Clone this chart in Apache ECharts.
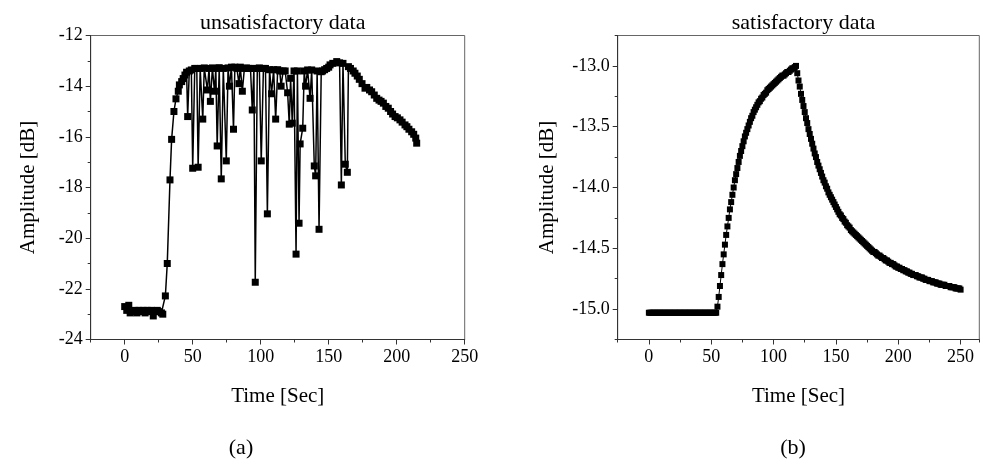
<!DOCTYPE html>
<html><head><meta charset="utf-8">
<script src="https://cdn.jsdelivr.net/npm/echarts@6/dist/echarts.min.js"></script>
<style>html,body{margin:0;padding:0;background:#fff}#c{width:983px;height:469px}</style>
</head><body><div id="c"></div>
<script>
// ---- panel (a): unsatisfactory data ----
const unsatTime = [0,1.5,3,4,6,7.5,9,10.5,12,13.5,15,16.5,18,19.5,21,22.5,24,25.5,27,28,
 29.9,31.3,33.3,34.5,36.2,37.7,39.4,40.2,41.9,43,44.3,45.5,46.3,47.5,49,50,51.5,53,54,55.5,57.4,58.5,60.8,62,63,64.5,66,67,68,69.5,71,72.5,74.7,76,77,78.5,80,81,82.5,84,85,86.5,88,89.5,91,92.5,93.8,95,96,97.5,99,100.4,102,103.5,104.9,106.5,108,109.5,111,112.5,114,115,116.5,118,119.8,121,122,123.2,124.5,126,127,128.2,129,130.9,132,133,134.5,136.3,137.5,139.4,140.4,141.5,142.9,144.5,145.5,147,148.5,150,151,153,155.9,158,159.3,160.5,162.2,163.7,164.5,166,168,169.3,171,172.5,174.5,176.7,178,180,181.6,183.5,185.3,187,188.5,190.2,192,193.8,195.5,197,198.8,200.5,202.4,204,206.1,207.5,209,211,212.5,214,214.7];
const unsatAmp = [-22.7,-22.85,-22.65,-22.95,-22.9,-22.85,-22.95,-22.85,-22.9,-22.85,-22.95,-22.85,-22.9,-22.85,-23.07,-22.9,-22.85,-22.9,-22.95,-23.0,
 -22.28,-21.0,-17.7,-16.1,-15.0,-14.5,-14.2,-13.95,-13.82,-13.7,-13.56,-13.45,-15.2,-13.4,-13.36,-17.24,-13.3,-13.3,-17.2,-13.3,-15.3,-13.28,-14.15,-13.3,-14.6,-13.28,-14.2,-13.3,-16.36,-13.27,-17.66,-13.3,-16.95,-13.28,-14.0,-13.25,-15.7,-13.25,-13.3,-13.9,-13.25,-14.2,-13.3,-13.28,-13.3,-13.3,-14.94,-13.3,-21.74,-13.3,-13.28,-16.95,-13.3,-13.3,-19.04,-13.35,-14.3,-13.35,-15.3,-13.35,-13.4,-14.0,-13.4,-13.4,-14.26,-15.5,-13.69,-15.46,-13.4,-20.63,-13.4,-19.41,-16.28,-15.66,-13.4,-14.0,-13.36,-14.48,-13.36,-17.15,-17.54,-13.4,-19.65,-13.43,-13.4,-13.35,-13.3,-13.25,-13.16,-13.1,-13.03,-13.08,-17.9,-13.1,-17.08,-17.4,-13.23,-13.3,-13.4,-13.49,-13.6,-13.73,-13.9,-14.08,-14.05,-14.15,-14.22,-14.35,-14.48,-14.55,-14.6,-14.67,-14.8,-14.87,-15.0,-15.1,-15.2,-15.25,-15.33,-15.42,-15.53,-15.6,-15.7,-15.8,-15.9,-16.05,-16.25];

// ---- panel (b): satisfactory data (one sample per second, 0..250 s) ----
const satTime = [0,1,2,3,4,5,6,7,8,9,10,11,12,13,14,15,16,17,18,19,20,21,22,23,24,25,26,27,28,29,30,31,32,33,34,35,36,37,38,39,40,41,42,43,44,45,46,47,48,49,50,51,52,53,54,
 55,56,57,58,59,60,61,62,63,64,65,66,67,68,69,70,71,72,73,74,75,76,77,78,79,80,81,82,83,84,85,86,87,88,89,90,91,92,93,94,95,96,97,98,99,100,101,102,103,104,105,106,107,108,109,110,111,112,113,114,115,116,117,118,
 119,120,121,122,123,124,125,126,127,128,129,130,131,132,133,134,135,136,137,138,139,140,141,142,143,144,145,146,147,148,149,150,151,152,153,154,155,156,157,158,159,160,161,162,163,164,165,166,167,168,169,170,171,172,173,174,175,176,177,178,179,180,181,182,183,184,185,186,187,188,189,190,191,192,193,194,195,196,197,198,199,200,201,202,203,204,205,206,207,208,209,210,211,212,213,214,215,216,217,218,219,220,221,222,223,224,225,226,227,228,229,230,231,232,233,234,235,236,237,238,239,240,241,242,243,244,245,246,247,248,249,250];
const satAmp = [-15.03,-15.03,-15.03,-15.03,-15.03,-15.03,-15.03,-15.03,-15.03,-15.03,-15.03,-15.03,-15.03,-15.03,-15.03,-15.03,-15.03,-15.03,-15.03,-15.03,-15.03,-15.03,-15.03,-15.03,-15.03,-15.03,-15.03,-15.03,-15.03,-15.03,-15.03,-15.03,-15.03,-15.03,-15.03,-15.03,-15.03,-15.03,-15.03,-15.03,-15.03,-15.03,-15.03,-15.03,-15.03,-15.03,-15.03,-15.03,-15.03,-15.03,-15.03,-15.03,-15.03,-15.03,-15.03,
 -14.98,-14.90,-14.81,-14.72,-14.63,-14.55,-14.47,-14.39,-14.32,-14.25,-14.18,-14.12,-14.06,-14.00,-13.94,-13.89,-13.84,-13.79,-13.74,-13.70,-13.66,-13.62,-13.58,-13.55,-13.52,-13.49,-13.46,-13.43,-13.41,-13.38,-13.36,-13.34,-13.32,-13.30,-13.29,-13.27,-13.26,-13.24,-13.23,-13.22,-13.20,-13.19,-13.18,-13.17,-13.16,-13.15,-13.14,-13.13,-13.12,-13.11,-13.10,-13.09,-13.08,-13.08,-13.07,-13.06,-13.05,-13.05,-13.04,-13.03,-13.02,-13.02,-13.01,-13.00,
 -13.06,-13.12,-13.17,-13.23,-13.28,-13.33,-13.38,-13.43,-13.47,-13.52,-13.56,-13.60,-13.64,-13.68,-13.72,-13.75,-13.79,-13.82,-13.85,-13.88,-13.91,-13.94,-13.96,-13.99,-14.01,-14.04,-14.06,-14.08,-14.10,-14.12,-14.14,-14.16,-14.18,-14.20,-14.22,-14.23,-14.25,-14.26,-14.28,-14.29,-14.31,-14.32,-14.33,-14.35,-14.36,-14.37,-14.38,-14.39,-14.40,-14.41,-14.42,-14.43,-14.44,-14.45,-14.46,-14.47,-14.48,-14.49,-14.50,-14.51,-14.52,-14.53,-14.53,-14.54,-14.55,-14.56,-14.56,-14.57,-14.58,-14.58,-14.59,-14.60,-14.60,-14.61,-14.62,-14.62,-14.63,-14.63,-14.64,-14.65,-14.65,-14.66,-14.66,-14.67,-14.67,-14.68,-14.68,-14.69,-14.69,-14.70,-14.70,-14.71,-14.71,-14.72,-14.72,-14.72,-14.73,-14.73,-14.74,-14.74,-14.74,-14.75,-14.75,-14.76,-14.76,-14.76,-14.77,-14.77,-14.77,-14.78,-14.78,-14.78,-14.79,-14.79,-14.79,-14.80,-14.80,-14.80,-14.80,-14.81,-14.81,-14.81,-14.81,-14.82,-14.82,-14.82,-14.82,-14.83,-14.83,-14.83,-14.83,-14.84];

// tick label / tick sets
const timeLabels = [0,50,100,150,200,250];
const ampLabelsA = [-24,-22,-20,-18,-16,-14,-12];
const ampLabelsB = [-15.0,-14.5,-14.0,-13.5,-13.0];

const FONT = '"Liberation Serif","Times New Roman",serif';
const AX = '#333', BORDER = '#666';

function pairs(xs, ys){ return xs.map((x,i)=>[x, ys[i]]); }
function isIn(list, v){ return list.some(l => Math.abs(l - v) < 1e-6); }

const G0 = {left: 90.7, top: 35.5, width: 374, height: 304};
const G1 = {left: 617.7, top: 35.5, width: 361.6, height: 304};
const XMAX_A = 250, XMAX_B = 265;

function xMain(gi, max){
  return {
    type:'value', gridIndex: gi, min:-25, max:max, interval:25, position:'bottom',
    axisLine:{show:true, onZero:false, lineStyle:{color:AX, width:1}},
    axisTick:{show:true, length:3, lineStyle:{color:AX}},
    splitLine:{show:false},
    axisLabel:{color:'#000', fontFamily:FONT, fontSize:18, margin:9,
      formatter: v => isIn(timeLabels, v) ? String(v) : ''},
    name:'Time [Sec]', nameLocation:'middle', nameGap:46,
    nameTextStyle:{color:'#000', fontFamily:FONT, fontSize:21}
  };
}
function xMajor(gi, max){
  return {
    type:'value', gridIndex: gi, min:-25, max:max, interval:25, position:'bottom',
    axisLine:{show:false, onZero:false}, splitLine:{show:false}, axisLabel:{show:false},
    axisTick:{show:true, length:5, lineStyle:{color:AX}, customValues: timeLabels}
  };
}

const option = {
  backgroundColor:'#fff',
  animation:false,
  title:[
    {text:'unsatisfactory data', left: G0.left + G0.width/2, top: 7, textAlign:'center',
     textStyle:{fontFamily:FONT, fontSize:22, fontWeight:'normal', color:'#000'}},
    {text:'satisfactory data', left: G1.left + G1.width/2, top: 7, textAlign:'center',
     textStyle:{fontFamily:FONT, fontSize:22, fontWeight:'normal', color:'#000'}}
  ],
  graphic:[
    {type:'text', x: 241, y: 437, style:{text:'(a)', font:'22px '+FONT, fill:'#000', textAlign:'center'}},
    {type:'text', x: 793, y: 437, style:{text:'(b)', font:'22px '+FONT, fill:'#000', textAlign:'center'}}
  ],
  grid:[
    Object.assign({show:true, borderColor:BORDER, borderWidth:1, backgroundColor:'transparent'}, G0),
    Object.assign({show:true, borderColor:BORDER, borderWidth:1, backgroundColor:'transparent'}, G1)
  ],
  xAxis:[ xMain(0, XMAX_A), xMain(1, XMAX_B), xMajor(0, XMAX_A), xMajor(1, XMAX_B) ],
  yAxis:[
    {type:'value', gridIndex:0, min:-24, max:-12, interval:1, position:'left',
     axisLine:{show:true, onZero:false, lineStyle:{color:AX}},
     axisTick:{show:true, length:3, lineStyle:{color:AX}},
     splitLine:{show:false},
     axisLabel:{color:'#000', fontFamily:FONT, fontSize:18, margin:8,
       formatter: v => isIn(ampLabelsA, v) ? String(v) : ''},
     name:'Amplitude [dB]', nameLocation:'middle', nameGap:52,
     nameTextStyle:{color:'#000', fontFamily:FONT, fontSize:21}},
    {type:'value', gridIndex:1, min:-15.25, max:-12.75, interval:0.25, position:'left',
     axisLine:{show:true, onZero:false, lineStyle:{color:AX}},
     axisTick:{show:true, length:3, lineStyle:{color:AX}},
     splitLine:{show:false},
     axisLabel:{color:'#000', fontFamily:FONT, fontSize:18, margin:8,
       formatter: v => isIn(ampLabelsB, v) ? v.toFixed(1) : ''},
     name:'Amplitude [dB]', nameLocation:'middle', nameGap:60,
     nameTextStyle:{color:'#000', fontFamily:FONT, fontSize:21}},
    {type:'value', gridIndex:0, min:-24, max:-12, interval:1, position:'left',
     axisLine:{show:false, onZero:false}, splitLine:{show:false}, axisLabel:{show:false},
     axisTick:{show:true, length:5, lineStyle:{color:AX}, customValues: ampLabelsA}},
    {type:'value', gridIndex:1, min:-15.25, max:-12.75, interval:0.25, position:'left',
     axisLine:{show:false, onZero:false}, splitLine:{show:false}, axisLabel:{show:false},
     axisTick:{show:true, length:5, lineStyle:{color:AX}, customValues: ampLabelsB}}
  ],
  series:[
    {type:'line', xAxisIndex:0, yAxisIndex:0, data: pairs(unsatTime, unsatAmp),
     symbol:'rect', symbolSize:7, showAllSymbol:true,
     lineStyle:{color:'#000', width:1.5}, itemStyle:{color:'#000'}},
    {type:'line', xAxisIndex:1, yAxisIndex:1, data: pairs(satTime, satAmp),
     symbol:'rect', symbolSize:6, showAllSymbol:true,
     lineStyle:{color:'#000', width:1}, itemStyle:{color:'#000'}}
  ]
};
echarts.init(document.getElementById('c'), null, {renderer:'canvas'}).setOption(option);
</script>
</body></html>
